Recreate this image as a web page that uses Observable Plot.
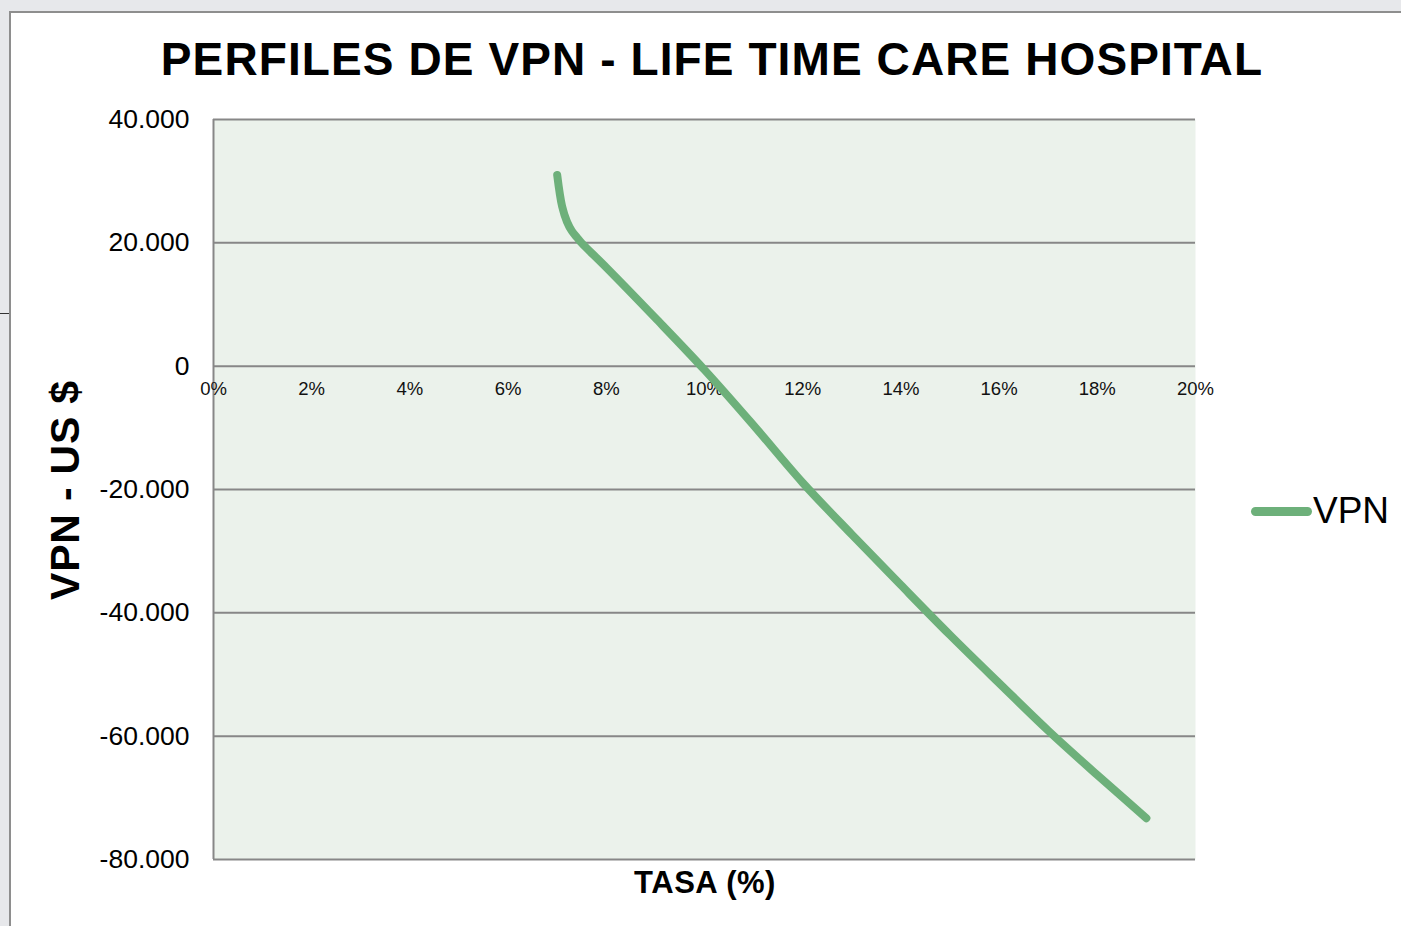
<!DOCTYPE html>
<html>
<head>
<meta charset="utf-8">
<script src="https://cdn.jsdelivr.net/npm/d3@7"></script>
<script src="https://cdn.jsdelivr.net/npm/@observablehq/plot@0.6"></script>
<style>
  html, body { margin: 0; padding: 0; }
  body { width: 1401px; height: 926px; overflow: hidden; position: relative;
         background: #e7e8eb; font-family: "Liberation Sans", Arial, sans-serif; color: #000; }
  #panel { position: absolute; left: 9px; top: 11px; width: 1400px; height: 920px; background: #fff;
           border-left: 2px solid #8e8e8e; border-top: 2px solid #8e8e8e; }
  #tick { position: absolute; left: 0; top: 313px; width: 9px; height: 1px; background: #333; }
  #title { position: absolute; left: 0; width: 1424px; top: 36px; text-align: center; font-weight: bold;
           font-size: 46px; line-height: 46px; letter-spacing: 1.1px; white-space: nowrap; }
  #chart { position: absolute; left: 0; top: 0; }
  #ytitle { position: absolute; left: 65px; top: 490px; transform: translate(-50%, -50%) rotate(-90deg);
            font-weight: bold; font-size: 41px; line-height: 41px; letter-spacing: 0.8px; white-space: nowrap; }
  #xtitle { position: absolute; left: 405px; width: 600px; top: 867px; text-align: center; font-weight: bold;
            font-size: 31px; line-height: 31px; letter-spacing: 0.5px; white-space: nowrap; }
  #legend-swatch { position: absolute; left: 1251px; top: 507px; width: 61px; height: 9px; border-radius: 4.5px;
                   background: #6db07a; }
  #legend-text { position: absolute; left: 1313px; top: 492px; font-size: 37px; line-height: 37px; }
</style>
</head>
<body>
<div id="panel"></div>
<div id="tick"></div>
<div id="title">PERFILES DE VPN - LIFE TIME CARE HOSPITAL</div>
<div id="chart"></div>
<div id="ytitle">VPN - US $</div>
<div id="xtitle">TASA (%)</div>
<div id="legend-swatch"></div>
<div id="legend-text">VPN</div>
<script>
// Data
const rates = [7, 7.1, 7.2, 7.3, 7.4, 7.5, 8, 9, 10, 11, 12, 13, 14, 15, 16, 17, 18, 19];
const vpn = [31000, 25900, 23400, 21900, 20900, 19950, 16000, 7800, -600, -9600, -18900, -27300, -35500, -43600, -51400, -59100, -66300, -73300];
const xTicks = [0, 2, 4, 6, 8, 10, 12, 14, 16, 18, 20];
const yTicks = [40000, 20000, 0, -20000, -40000, -60000, -80000];
const seriesName = "VPN";

const data = rates.map((r, i) => ({rate: r, vpn: vpn[i], series: seriesName}));
const locale = d3.formatLocale({decimal: ",", thousands: ".", grouping: [3], currency: ["$", ""], minus: "-"});
const fmt = locale.format(",");

const chart = Plot.plot({
  width: 1401,
  height: 926,
  marginLeft: 213,
  marginRight: 206,
  marginTop: 119,
  marginBottom: 67,
  style: {background: "transparent", fontFamily: "Liberation Sans, Arial, sans-serif", color: "#000"},
  x: {domain: [0, 20], axis: null},
  y: {domain: [-80000, 40000]},
  marks: [
    Plot.frame({fill: "#ebf2eb", stroke: null}),
    Plot.gridY(yTicks, {stroke: "#878787", strokeOpacity: 1, strokeWidth: 2}),
    Plot.ruleX([0], {stroke: "#878787", strokeWidth: 2}),
    Plot.axisY(yTicks, {tickSize: 0, tickPadding: 24, tickFormat: fmt, fontSize: 26.5, label: null}),
    Plot.text(xTicks, {x: d => d, y: () => 0, dy: 23, text: d => d + "%", fontSize: 18.5, fill: "#111"}),
    Plot.line(data, {x: "rate", y: "vpn", curve: "catmull-rom", stroke: "#6db07a", strokeWidth: 8,
                     strokeLinecap: "round", strokeLinejoin: "round"})
  ]
});
document.getElementById("chart").appendChild(chart);
</script>
</body>
</html>
